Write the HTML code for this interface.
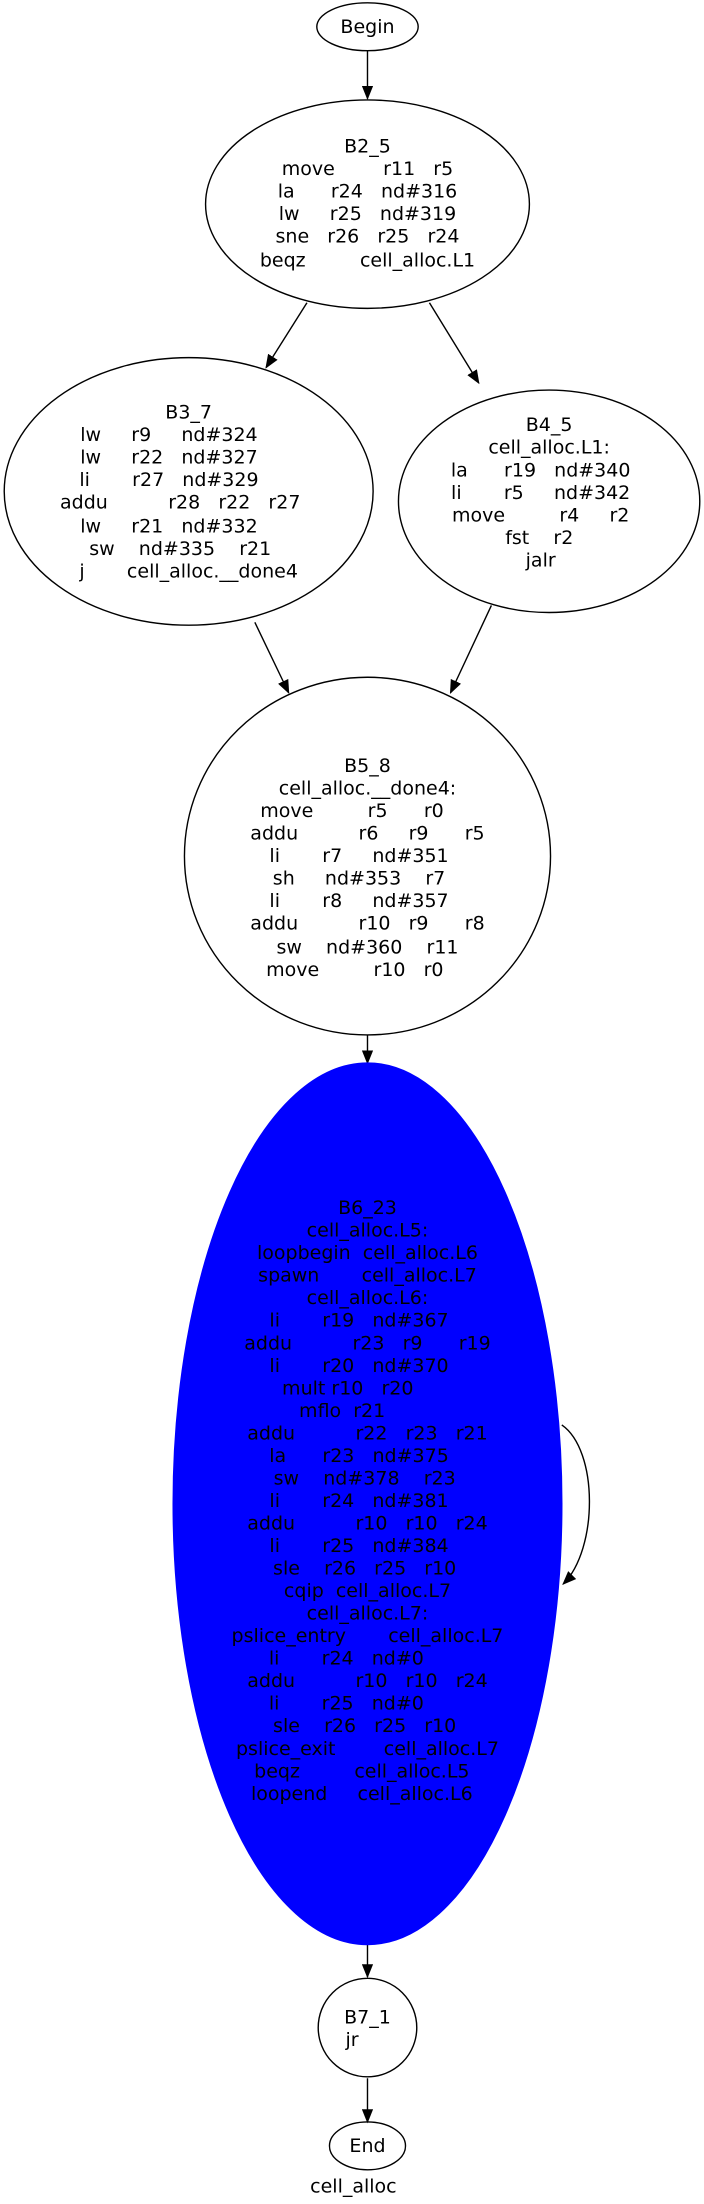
<!DOCTYPE html>
<html><head><meta charset="utf-8"><style>
html,body{margin:0;padding:0;background:#fff;}
svg{display:block;}
text{font-family:"DejaVu Sans","Liberation Sans",sans-serif;font-size:13.5px;white-space:pre;fill:#000;}
</style></head><body>
<svg width="704" height="2204" viewBox="0 0 500 1565.3" preserveAspectRatio="none" xmlns="http://www.w3.org/2000/svg">
<defs><marker id="ah" markerWidth="10" markerHeight="8" refX="9" refY="4" orient="auto" markerUnits="userSpaceOnUse"><path d="M0,0 L10,4 L0,8 z" fill="#000"/></marker></defs>
<g stroke="#000" stroke-width="1" fill="none">
<line x1="261" y1="36" x2="261" y2="70" marker-end="url(#ah)"/>
<line x1="218" y1="215" x2="189" y2="261" marker-end="url(#ah)"/>
<line x1="305" y1="215" x2="340" y2="272" marker-end="url(#ah)"/>
<line x1="181" y1="442" x2="205" y2="492" marker-end="url(#ah)"/>
<line x1="349" y1="430" x2="320" y2="492" marker-end="url(#ah)"/>
<line x1="261" y1="735" x2="261" y2="755" marker-end="url(#ah)"/>
<path d="M399,1012 C425,1030 425,1100 400,1125" marker-end="url(#ah)"/>
<line x1="261" y1="1381" x2="261" y2="1404" marker-end="url(#ah)"/>
<line x1="261" y1="1476" x2="261" y2="1507" marker-end="url(#ah)"/>
<ellipse cx="261" cy="19" rx="36" ry="17"/>
<ellipse cx="261" cy="145" rx="115" ry="74"/>
<ellipse cx="134" cy="349" rx="131" ry="95"/>
<ellipse cx="390" cy="356" rx="107" ry="79"/>
<ellipse cx="261" cy="608" rx="130" ry="127"/>
<ellipse cx="261" cy="1440" rx="35" ry="35"/>
<ellipse cx="261" cy="1524" rx="27" ry="17"/>
</g>
<ellipse cx="261" cy="1068" rx="138" ry="313" fill="#0000ff" stroke="#0000ff"/>
<g text-anchor="middle" dominant-baseline="central">
<text x="261" y="19">Begin</text>
<g>
<text x="261" y="104">B2_5</text>
<text x="261" y="120">move        r11   r5</text>
<text x="261" y="136">la      r24   nd#316</text>
<text x="261" y="152">lw     r25   nd#319</text>
<text x="261" y="168">sne   r26   r25   r24</text>
<text x="261" y="185">beqz         cell_alloc.L1</text>
</g>
<g>
<text x="134" y="293">B3_7</text>
<text x="120" y="309">lw     r9     nd#324</text>
<text x="120" y="325">lw     r22   nd#327</text>
<text x="120" y="341">li       r27   nd#329</text>
<text x="128" y="357">addu          r28   r22   r27</text>
<text x="120" y="374">lw     r21   nd#332</text>
<text x="128" y="390">sw    nd#335    r21</text>
<text x="134" y="406">j       cell_alloc.__done4</text>
</g>
<g>
<text x="390" y="302">B4_5</text>
<text x="390" y="318">cell_alloc.L1:</text>
<text x="384" y="334">la      r19   nd#340</text>
<text x="384" y="350">li       r5     nd#342</text>
<text x="384" y="366">move         r4     r2</text>
<text x="383" y="382">fst    r2</text>
<text x="384" y="398">jalr</text>
</g>
<g>
<text x="261" y="544">B5_8</text>
<text x="261" y="560">cell_alloc.__done4:</text>
<text x="250" y="576">move         r5      r0</text>
<text x="261" y="592">addu          r6     r9      r5</text>
<text x="255" y="608">li       r7     nd#351</text>
<text x="255" y="624">sh     nd#353    r7</text>
<text x="255" y="640">li       r8     nd#357</text>
<text x="261" y="656">addu          r10   r9      r8</text>
<text x="261" y="673">sw    nd#360    r11</text>
<text x="252" y="689">move         r10   r0</text>
</g>
<g>
<text x="261" y="858">B6_23</text>
<text x="261" y="874">cell_alloc.L5:</text>
<text x="261" y="890">loopbegin  cell_alloc.L6</text>
<text x="261" y="906">spawn       cell_alloc.L7</text>
<text x="261" y="922">cell_alloc.L6:</text>
<text x="255" y="938">li       r19   nd#367</text>
<text x="261" y="954">addu          r23   r9      r19</text>
<text x="255" y="970">li       r20   nd#370</text>
<text x="247" y="986">mult r10   r20</text>
<text x="243" y="1002">mflo  r21</text>
<text x="261" y="1018">addu          r22   r23   r21</text>
<text x="255" y="1034">la      r23   nd#375</text>
<text x="259" y="1050">sw    nd#378    r23</text>
<text x="255" y="1066">li       r24   nd#381</text>
<text x="261" y="1082">addu          r10   r10   r24</text>
<text x="255" y="1098">li       r25   nd#384</text>
<text x="259" y="1114">sle    r26   r25   r10</text>
<text x="261" y="1130">cqip  cell_alloc.L7</text>
<text x="261" y="1146">cell_alloc.L7:</text>
<text x="261" y="1162">pslice_entry       cell_alloc.L7</text>
<text x="246" y="1178">li       r24   nd#0</text>
<text x="261" y="1194">addu          r10   r10   r24</text>
<text x="246" y="1210">li       r25   nd#0</text>
<text x="259" y="1226">sle    r26   r25   r10</text>
<text x="261" y="1242">pslice_exit        cell_alloc.L7</text>
<text x="257" y="1258">beqz         cell_alloc.L5</text>
<text x="257" y="1274">loopend     cell_alloc.L6</text>
</g>
<text x="261" y="1433">B7_1</text>
<text x="250" y="1449">jr</text>
<text x="261" y="1524">End</text>
<text x="251" y="1553">cell_alloc</text>
</g>
</svg>
</body></html>
